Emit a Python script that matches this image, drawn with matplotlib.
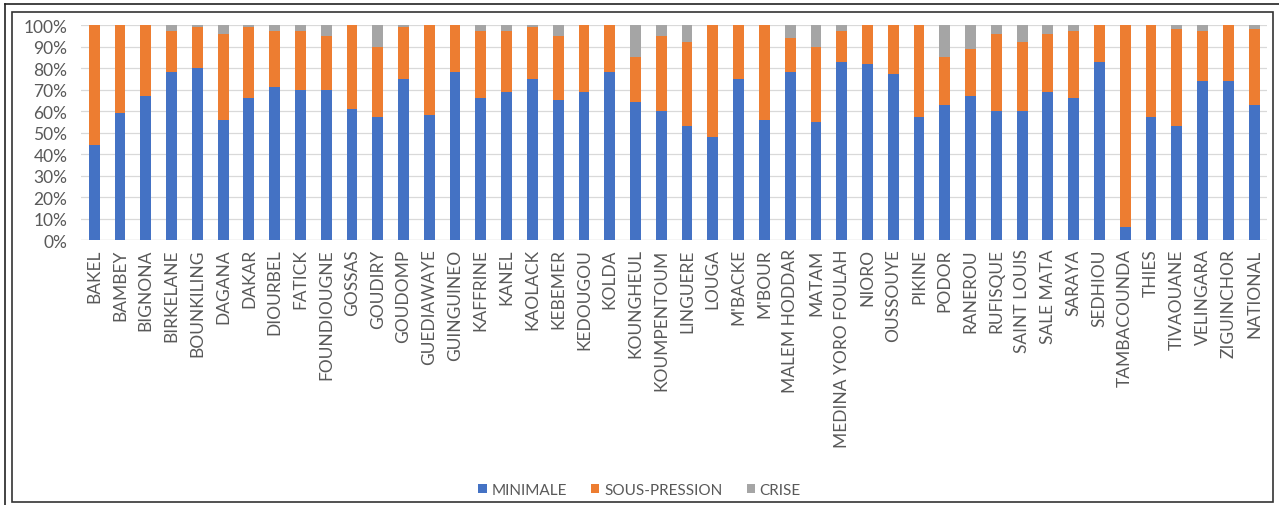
import matplotlib.pyplot as plt
from matplotlib.patches import Rectangle
import numpy as np

regions = ["BAKEL", "BAMBEY", "BIGNONA", "BIRKELANE", "BOUNKILING", "DAGANA", "DAKAR",
           "DIOURBEL", "FATICK", "FOUNDIOUGNE", "GOSSAS", "GOUDIRY", "GOUDOMP",
           "GUEDIAWAYE", "GUINGUINEO", "KAFFRINE", "KANEL", "KAOLACK", "KEBEMER",
           "KEDOUGOU", "KOLDA", "KOUNGHEUL", "KOUMPENTOUM", "LINGUERE", "LOUGA",
           "M'BACKE", "M'BOUR", "MALEM HODDAR", "MATAM", "MEDINA YORO FOULAH", "NIORO",
           "OUSSOUYE", "PIKINE", "PODOR", "RANEROU", "RUFISQUE", "SAINT LOUIS",
           "SALE MATA", "SARAYA", "SEDHIOU", "TAMBACOUNDA", "THIES", "TIVAOUANE",
           "VELINGARA", "ZIGUINCHOR", "NATIONAL"]

minimale = [44, 59, 67, 78, 80, 56, 66, 71, 70, 70, 61, 57, 75, 58, 78, 66, 69, 75, 65,
            69, 78, 64, 60, 53, 48, 75, 56, 78, 55, 83, 82, 77, 57, 63, 67, 60, 60, 69,
            66, 83, 6, 57, 53, 74, 74, 63]
sous_pression = [56, 41, 33, 19, 19, 40, 33, 26, 27, 25, 39, 33, 24, 42, 22, 31, 28, 24,
                 30, 31, 22, 21, 35, 39, 52, 25, 44, 16, 35, 14, 18, 23, 43, 22, 22, 36,
                 32, 27, 31, 17, 94, 43, 45, 23, 26, 35]
crise = [0, 0, 0, 3, 1, 4, 1, 3, 3, 5, 0, 10, 1, 0, 0, 3, 3, 1, 5, 0, 0, 15, 5, 8, 0,
         0, 0, 6, 10, 3, 0, 0, 0, 15, 11, 4, 8, 4, 3, 0, 0, 0, 2, 3, 0, 2]

blue = "#4472C4"
orange = "#ED7D31"
grey = "#A5A5A5"
txt = "#595959"

plt.rcParams['font.family'] = ['Lato', 'DejaVu Sans']

fig = plt.figure(figsize=(12.79, 5.06), dpi=100)
ax = fig.add_axes([0.0636, 0.5237, 0.927, 0.4249])

x = np.arange(len(regions))
m = np.array(minimale) / 100
s = np.array(sous_pression) / 100
c = np.array(crise) / 100
w = 0.42
ax.bar(x, m, w, color=blue, label="MINIMALE", zorder=3)
ax.bar(x, s, w, bottom=m, color=orange, label="SOUS-PRESSION", zorder=3)
ax.bar(x, c, w, bottom=m + s, color=grey, label="CRISE", zorder=3)

ax.set_xlim(-0.5, len(regions) - 0.5)
ax.set_ylim(0, 1)
ax.set_yticks(np.arange(0, 1.01, 0.1))
ax.set_yticklabels([f"{int(round(v * 100))}%" for v in np.arange(0, 1.01, 0.1)])
ax.set_xticks(x)
ax.set_xticklabels(regions, rotation=90)
ax.tick_params(axis='both', length=0, colors=txt)
ax.tick_params(axis='x', pad=6, labelsize=12.5)
ax.tick_params(axis='y', pad=10, labelsize=12.5)
ax.grid(axis='y', color="#D9D9D9", linewidth=0.9, zorder=0)
for sp in ax.spines.values():
    sp.set_visible(False)
ax.axhline(0, color="#D9D9D9", linewidth=0.9, zorder=2)

leg = fig.legend(loc='center', bbox_to_anchor=(0.5, 0.03), ncol=3, frameon=False,
                 fontsize=11, handlelength=0.55, handleheight=0.55, handletextpad=0.3,
                 columnspacing=1.6)
for t in leg.get_texts():
    t.set_color(txt)

# frames around the picture
fig.patches.append(Rectangle((12 / 1279, 3 / 506), 1261 / 1279, 490 / 506,
                             transform=fig.transFigure, fill=False,
                             edgecolor="#333333", linewidth=1.2))
fig.lines.append(plt.Line2D([5 / 1279, 5 / 1279], [0, 1 - 5 / 506],
                            transform=fig.transFigure, color="#222222", linewidth=1.2))
fig.lines.append(plt.Line2D([5 / 1279, 1], [1 - 5 / 506, 1 - 5 / 506],
                            transform=fig.transFigure, color="#222222", linewidth=1.2))

fig.savefig("out.png", dpi=100)
